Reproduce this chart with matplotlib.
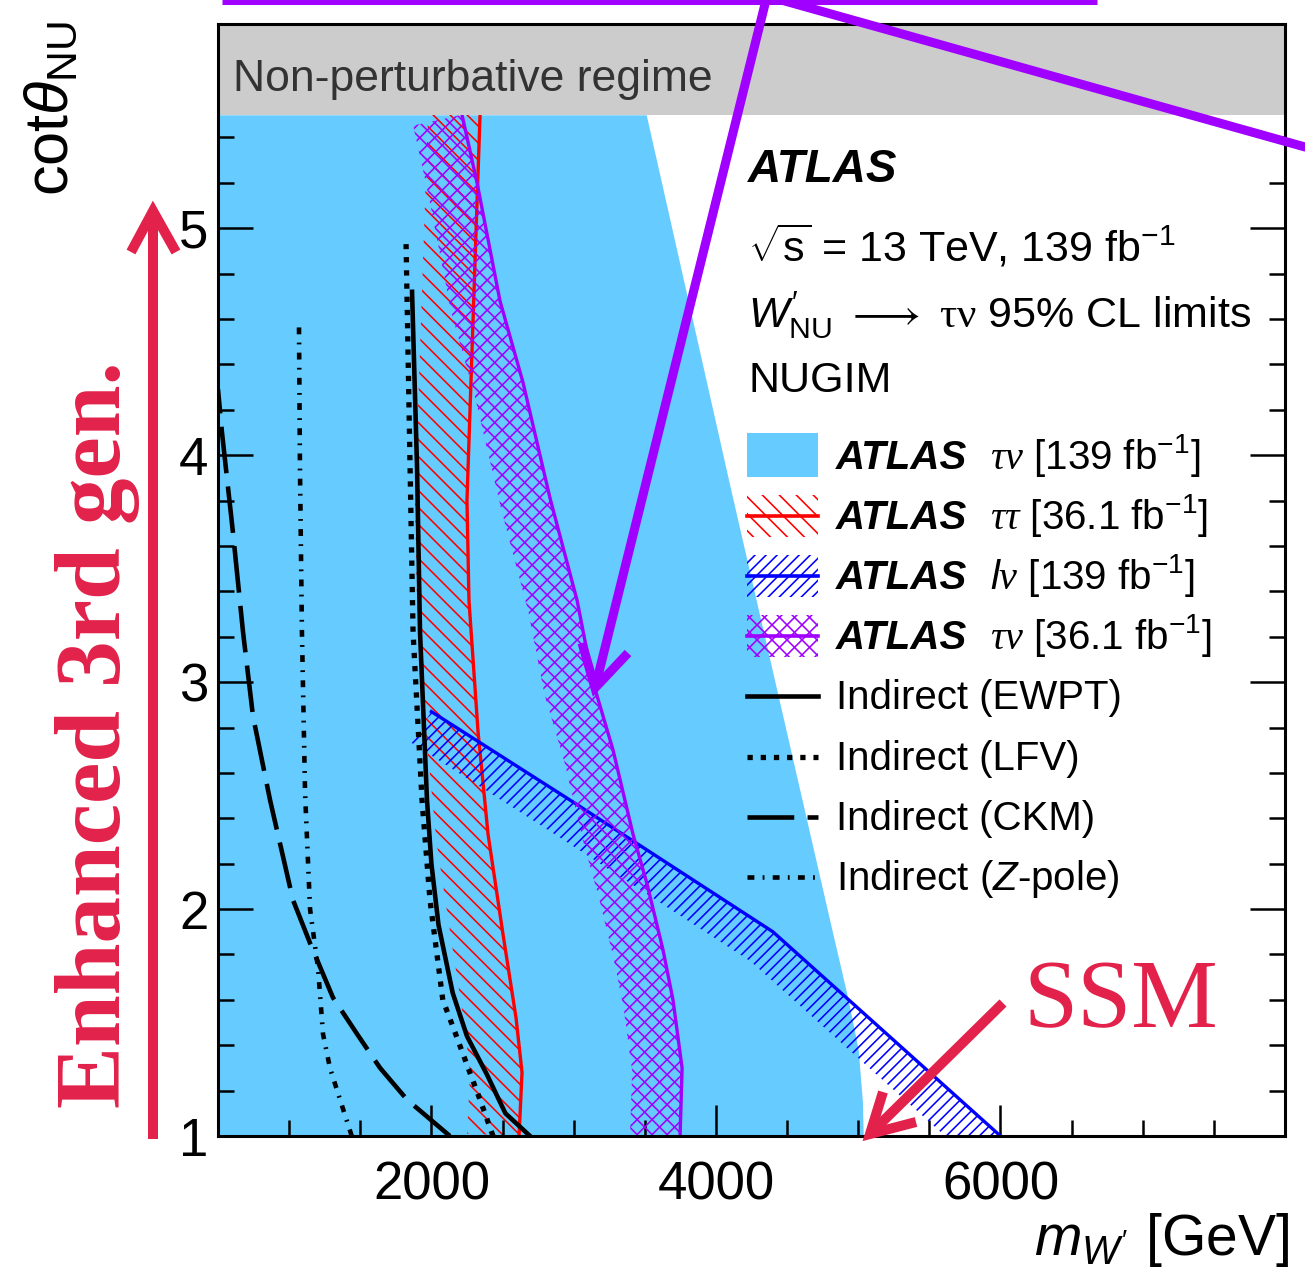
import numpy as np
import matplotlib
matplotlib.use("Agg")
import matplotlib.pyplot as plt
from matplotlib.collections import LineCollection
from matplotlib.patches import Polygon, Rectangle
from matplotlib.lines import Line2D
from matplotlib.transforms import IdentityTransform
from matplotlib.ticker import FixedLocator

# ---------------- data ----------------
# ATLAS tau-nu 139 fb-1 exclusion boundary (filled region to the left)
taunu139_cot = [1.0, 1.15, 1.38, 1.6, 1.95, 3.86, 5.5]
taunu139_mass = [5035, 5030, 5000, 4930, 4800, 4100, 3510]

# ATLAS tau-tau 36.1 fb-1
tautau_cot = [1.0, 1.28, 1.52, 1.89, 2.33, 2.78, 3.36, 3.80, 5.12, 5.5]
tautau_mass = [2616, 2637, 2595, 2503, 2398, 2328, 2264, 2250, 2321, 2342]

# ATLAS l-nu 139 fb-1
lnu_mass = [2000, 3000, 4400, 5200, 6000]
lnu_cot = [2.87, 2.47, 1.90, 1.45, 1.0]

# ATLAS tau-nu 36.1 fb-1
taunu36_cot = [1.0, 1.30, 1.60, 1.82, 2.11, 2.33, 2.70, 3.00, 3.36, 3.81, 4.32, 4.68, 5.20, 5.5]
taunu36_mass = [3748, 3762, 3698, 3628, 3516, 3417, 3277, 3136, 3024, 2834, 2644, 2482, 2321, 2215]

# Indirect constraints
ewpt_cot = [1.0, 1.10, 1.27, 1.44, 1.63, 1.93, 2.2, 2.48, 3.22, 3.95, 4.72]
ewpt_mass = [2693, 2520, 2391, 2250, 2150, 2050, 2000, 1969, 1920, 1899, 1864]

lfv_cot = [1.0, 1.16, 1.28, 1.45, 1.60, 2.04, 2.48, 3.22, 3.95, 4.93]
lfv_mass = [2433, 2342, 2270, 2170, 2080, 1990, 1934, 1871, 1850, 1822]

ckm_cot = [1.0, 1.16, 1.30, 1.45, 1.61, 1.85, 2.04, 2.48, 2.85, 3.22, 3.66, 4.10, 4.29]
ckm_mass = [2130, 1829, 1639, 1477, 1308, 1147, 1027, 866, 746, 676, 605, 528, 500]

zpole_cot = [1.0, 1.16, 1.30, 1.45, 1.74, 2.00, 2.51, 3.22, 3.95, 4.59]
zpole_mass = [1440, 1358, 1287, 1238, 1203, 1147, 1112, 1090, 1076, 1069]

nonpert_range = [5.5, 5.9]
xticks_major = [2000, 4000, 6000]
yticks_major = [1, 2, 3, 4, 5]

# ---------------- style ----------------
W, H, DPI = 1305, 1277, 100
LIGHTBLUE = "#66ccff"
RED = "#ff0000"
BLUE = "#0000ff"
PURPLE = "#a000ff"
CRIMSON = "#e2224a"

plt.rcParams.update({
    "font.family": ["Liberation Sans", "DejaVu Sans"],
    "mathtext.fontset": "custom",
    "mathtext.rm": "Liberation Sans",
    "mathtext.it": "Liberation Sans:italic",
    "mathtext.bf": "Liberation Sans:bold",
    "mathtext.sf": "Liberation Serif:italic",
    "mathtext.cal": "Liberation Serif",
})

fig = plt.figure(figsize=(W / DPI, H / DPI), dpi=DPI)
ax = fig.add_axes([218 / W, 1 - 1136 / H, 1067 / W, 1112 / H])
ax.set_xlim(500, 8000)
ax.set_ylim(1, 5.9)


def fx(x):
    return x / W


def fy(y):
    return 1 - y / H


def band_polygon(xs, ys, width, side):
    pts = ax.transData.transform(np.column_stack([xs, ys]))
    d = np.gradient(pts, axis=0)
    d /= np.hypot(d[:, 0], d[:, 1])[:, None]
    sgn = 1 if side == "left" else -1
    nrm = sgn * np.column_stack([-d[:, 1], d[:, 0]])
    return np.vstack([pts, (pts + width * nrm)[::-1]])


def hatch(container, verts, angles, spacing, color, lw, zorder, clipbox=None):
    verts = np.asarray(verts, float)
    clip = Polygon(verts, closed=True, transform=IdentityTransform(),
                   fc="none", ec="none")
    lo, hi = verts.min(0), verts.max(0)
    ctr = (lo + hi) / 2
    R = np.hypot(*(hi - lo)) + 10
    segs = []
    for a in angles:
        t = np.radians(a)
        d = np.array([np.cos(t), np.sin(t)])
        n = np.array([-np.sin(t), np.cos(t)])
        proj = verts @ n
        for k in range(int(np.floor(proj.min() / spacing)), int(np.ceil(proj.max() / spacing)) + 1):
            p = ctr + (k * spacing - ctr @ n) * n
            segs.append([p - R * d, p + R * d])
    lc = LineCollection(segs, colors=color, linewidths=lw,
                        transform=IdentityTransform(), zorder=zorder)
    lc.set_clip_path(clip)
    if clipbox is not None:
        lc.set_clip_box(clipbox)
    if container is ax:
        ax.add_collection(lc, autolim=False)
    else:
        fig.add_artist(lc)
    return lc


HLW = 1.15

# blue filled exclusion
ax.fill_betweenx(taunu139_cot, 0, taunu139_mass, color=LIGHTBLUE, lw=0, zorder=1)

# red tau-tau band
hatch(ax, band_polygon(tautau_mass, tautau_cot, 52, "left"), [-45], 12.0, RED, HLW, 1.5, ax.bbox)
ax.plot(tautau_mass, tautau_cot, color=RED, lw=2.4, zorder=1.6)

# blue l-nu band
hatch(ax, band_polygon(lnu_mass, lnu_cot, 37, "right"), [45], 7.8, BLUE, HLW, 1.7, ax.bbox)
ax.plot(lnu_mass, lnu_cot, color=BLUE, lw=2.4, zorder=1.8)

# purple tau-nu 36.1 band
hatch(ax, band_polygon(taunu36_mass, taunu36_cot, 50, "left"), [45, -45], 10.6, PURPLE, HLW, 1.9, ax.bbox)
ax.plot(taunu36_mass, taunu36_cot, color=PURPLE, lw=2.4, zorder=1.95)

# indirect lines
sty_ewpt = dict(color="black", lw=3.3, linestyle="-")
sty_lfv = dict(color="black", lw=3.8, linestyle=(0, (1.0, 1.5)), dash_capstyle="butt")
sty_ckm = dict(color="black", lw=3.3, linestyle=(0, (10.2, 2.9)), dash_capstyle="butt")
sty_z = dict(color="black", lw=3.3, linestyle=(0, (1.5, 1.8, 0.4, 1.8)), dash_capstyle="butt")
ax.plot(ewpt_mass, ewpt_cot, zorder=2.1, **sty_ewpt)
ax.plot(lfv_mass, lfv_cot, zorder=2.1, **sty_lfv)
ax.plot(ckm_mass, ckm_cot, zorder=2.1, **sty_ckm)
ax.plot(zpole_mass, zpole_cot, zorder=2.1, **sty_z)

# non-perturbative regime
ax.axhspan(nonpert_range[0], nonpert_range[1], color="#cccccc", lw=0, zorder=2.3)
fig.text(fx(233), fy(91), "Non-perturbative regime", fontsize=32, color="#333333",
         ha="left", va="baseline", zorder=6)

# axes cosmetics
for s in ax.spines.values():
    s.set_linewidth(2.2)
ax.xaxis.set_major_locator(FixedLocator(xticks_major))
ax.xaxis.set_minor_locator(FixedLocator([m for m in np.arange(1000, 8000, 500) if m not in xticks_major]))
ax.yaxis.set_major_locator(FixedLocator(yticks_major))
ax.yaxis.set_minor_locator(FixedLocator([v for v in np.arange(1.2, 5.85, 0.2) if abs(v - round(v)) > 1e-6]))
ax.tick_params(which="both", direction="in", top=True, right=True, width=1.8, labelsize=38)
ax.tick_params(axis="x", which="major", length=22, pad=18)
ax.tick_params(axis="y", which="major", length=25, pad=7)
ax.tick_params(which="minor", length=11.5)

fig.text(fx(1289), fy(1255), r"$m_{W^{\prime}}$ [GeV]", fontsize=41, ha="right", va="baseline")
fig.text(fx(52), fy(21), r"cot$\theta_{\mathrm{NU}}$", fontsize=44, rotation=90,
         ha="center", va="top")

# header
fig.text(fx(748), fy(182), "ATLAS", fontsize=33, weight="bold", style="italic", va="baseline")
fig.text(fx(748), fy(262), r"$\sqrt{\mathrm{s}}$ = 13 TeV, 139 fb$^{-1}$", fontsize=31, va="baseline")
fig.text(fx(748), fy(327), r"$W^{\prime}_{\mathrm{NU}}$ $\longrightarrow$ $\mathcal{\tau\nu}$ 95% CL limits",
         fontsize=31, va="baseline")
fig.text(fx(748), fy(392), "NUGIM", fontsize=31, va="baseline")

# legend (manual)
LX0, LX1 = 747, 818
fig.add_artist(Rectangle((fx(LX0), fy(477)), fx(LX1) - fx(LX0), fy(433) - fy(477),
                         transform=fig.transFigure, fc=LIGHTBLUE, ec="none"))


def legend_hatch(ymid, angles, spacing, color):
    y0, y1 = H - (ymid + 21), H - (ymid - 21)
    verts = [(LX0, y0), (LX1, y0), (LX1, y1), (LX0, y1)]
    hatch(fig, verts, angles, spacing, color, HLW, 3)
    fig.add_artist(Line2D([fx(LX0), fx(LX1)], [fy(ymid)] * 2, transform=fig.transFigure,
                          color=color, lw=2.6, zorder=3.5))


legend_hatch(516, [-45], 12.0, RED)
legend_hatch(576, [45], 7.8, BLUE)
legend_hatch(636, [45, -45], 10.6, PURPLE)
for ymid, sty in [(696, sty_ewpt), (757, sty_lfv), (817, sty_ckm), (877, sty_z)]:
    fig.add_artist(Line2D([fx(LX0), fx(LX1)], [fy(ymid)] * 2, transform=fig.transFigure, **sty))

LFS = 29
legend_atlas = [(469, r"$\mathsf{\tau\nu}$ [139 fb$^{-1}$]"),
                (529, r"$\mathsf{\tau\tau}$ [36.1 fb$^{-1}$]"),
                (589, r"$l\mathsf{\nu}$ [139 fb$^{-1}$]"),
                (649, r"$\mathsf{\tau\nu}$ [36.1 fb$^{-1}$]")]
for yb, lab in legend_atlas:
    fig.text(fx(836), fy(yb), "ATLAS", fontsize=LFS, weight="bold", style="italic", va="baseline")
    fig.text(fx(990), fy(yb), lab, fontsize=LFS, va="baseline")
for yb, lab in [(709, "Indirect (EWPT)"), (770, "Indirect (LFV)"), (830, "Indirect (CKM)"),
                (890, r"Indirect ($Z$-pole)")]:
    fig.text(fx(836), fy(yb), lab, fontsize=LFS, va="baseline")

# annotations (purple)
PLW = 6.5
fig.add_artist(Line2D([fx(222), fx(1097)], [fy(0)] * 2, transform=fig.transFigure,
                      color=PURPLE, lw=PLW, solid_capstyle="butt", zorder=7))
fig.add_artist(Line2D([fx(767), fx(1330)], [fy(-4), fy(154)], transform=fig.transFigure,
                      color=PURPLE, lw=PLW, solid_capstyle="butt", zorder=7))
fig.add_artist(Line2D([fx(767), fx(596)], [fy(-4), fy(684)], transform=fig.transFigure,
                      color=PURPLE, lw=PLW, solid_capstyle="butt", zorder=7))
fig.add_artist(Line2D([fx(582), fx(595), fx(628)], [fy(643), fy(688), fy(653)],
                      transform=fig.transFigure, color=PURPLE, lw=PLW,
                      solid_capstyle="butt", solid_joinstyle="miter", zorder=7))

# annotations (crimson)
CLW = 7.2
fig.add_artist(Line2D([fx(153), fx(153)], [fy(1139), fy(214)], transform=fig.transFigure,
                      color=CRIMSON, lw=CLW, solid_capstyle="butt", zorder=7))
fig.add_artist(Line2D([fx(131), fx(153), fx(176)], [fy(252), fy(211), fy(252)],
                      transform=fig.transFigure, color=CRIMSON, lw=CLW,
                      solid_capstyle="butt", solid_joinstyle="miter", zorder=7))
fig.text(fx(120), fy(1108), "Enhanced 3rd gen.", fontsize=67, family="Liberation Serif",
         weight="bold", color=CRIMSON, rotation=90, rotation_mode="anchor",
         ha="left", va="baseline", zorder=7)

fig.add_artist(Line2D([fx(1003), fx(873)], [fy(1003), fy(1131)], transform=fig.transFigure,
                      color=CRIMSON, lw=CLW, solid_capstyle="butt", zorder=7))
fig.add_artist(Line2D([fx(883), fx(870), fx(916)], [fy(1092), fy(1134), fy(1122)],
                      transform=fig.transFigure, color=CRIMSON, lw=CLW,
                      solid_capstyle="butt", solid_joinstyle="miter", zorder=7))
fig.text(fx(1024), fy(1027), "SSM", fontsize=70, family="Liberation Serif",
         color=CRIMSON, ha="left", va="baseline", zorder=7)

fig.savefig("out.png", dpi=DPI)
